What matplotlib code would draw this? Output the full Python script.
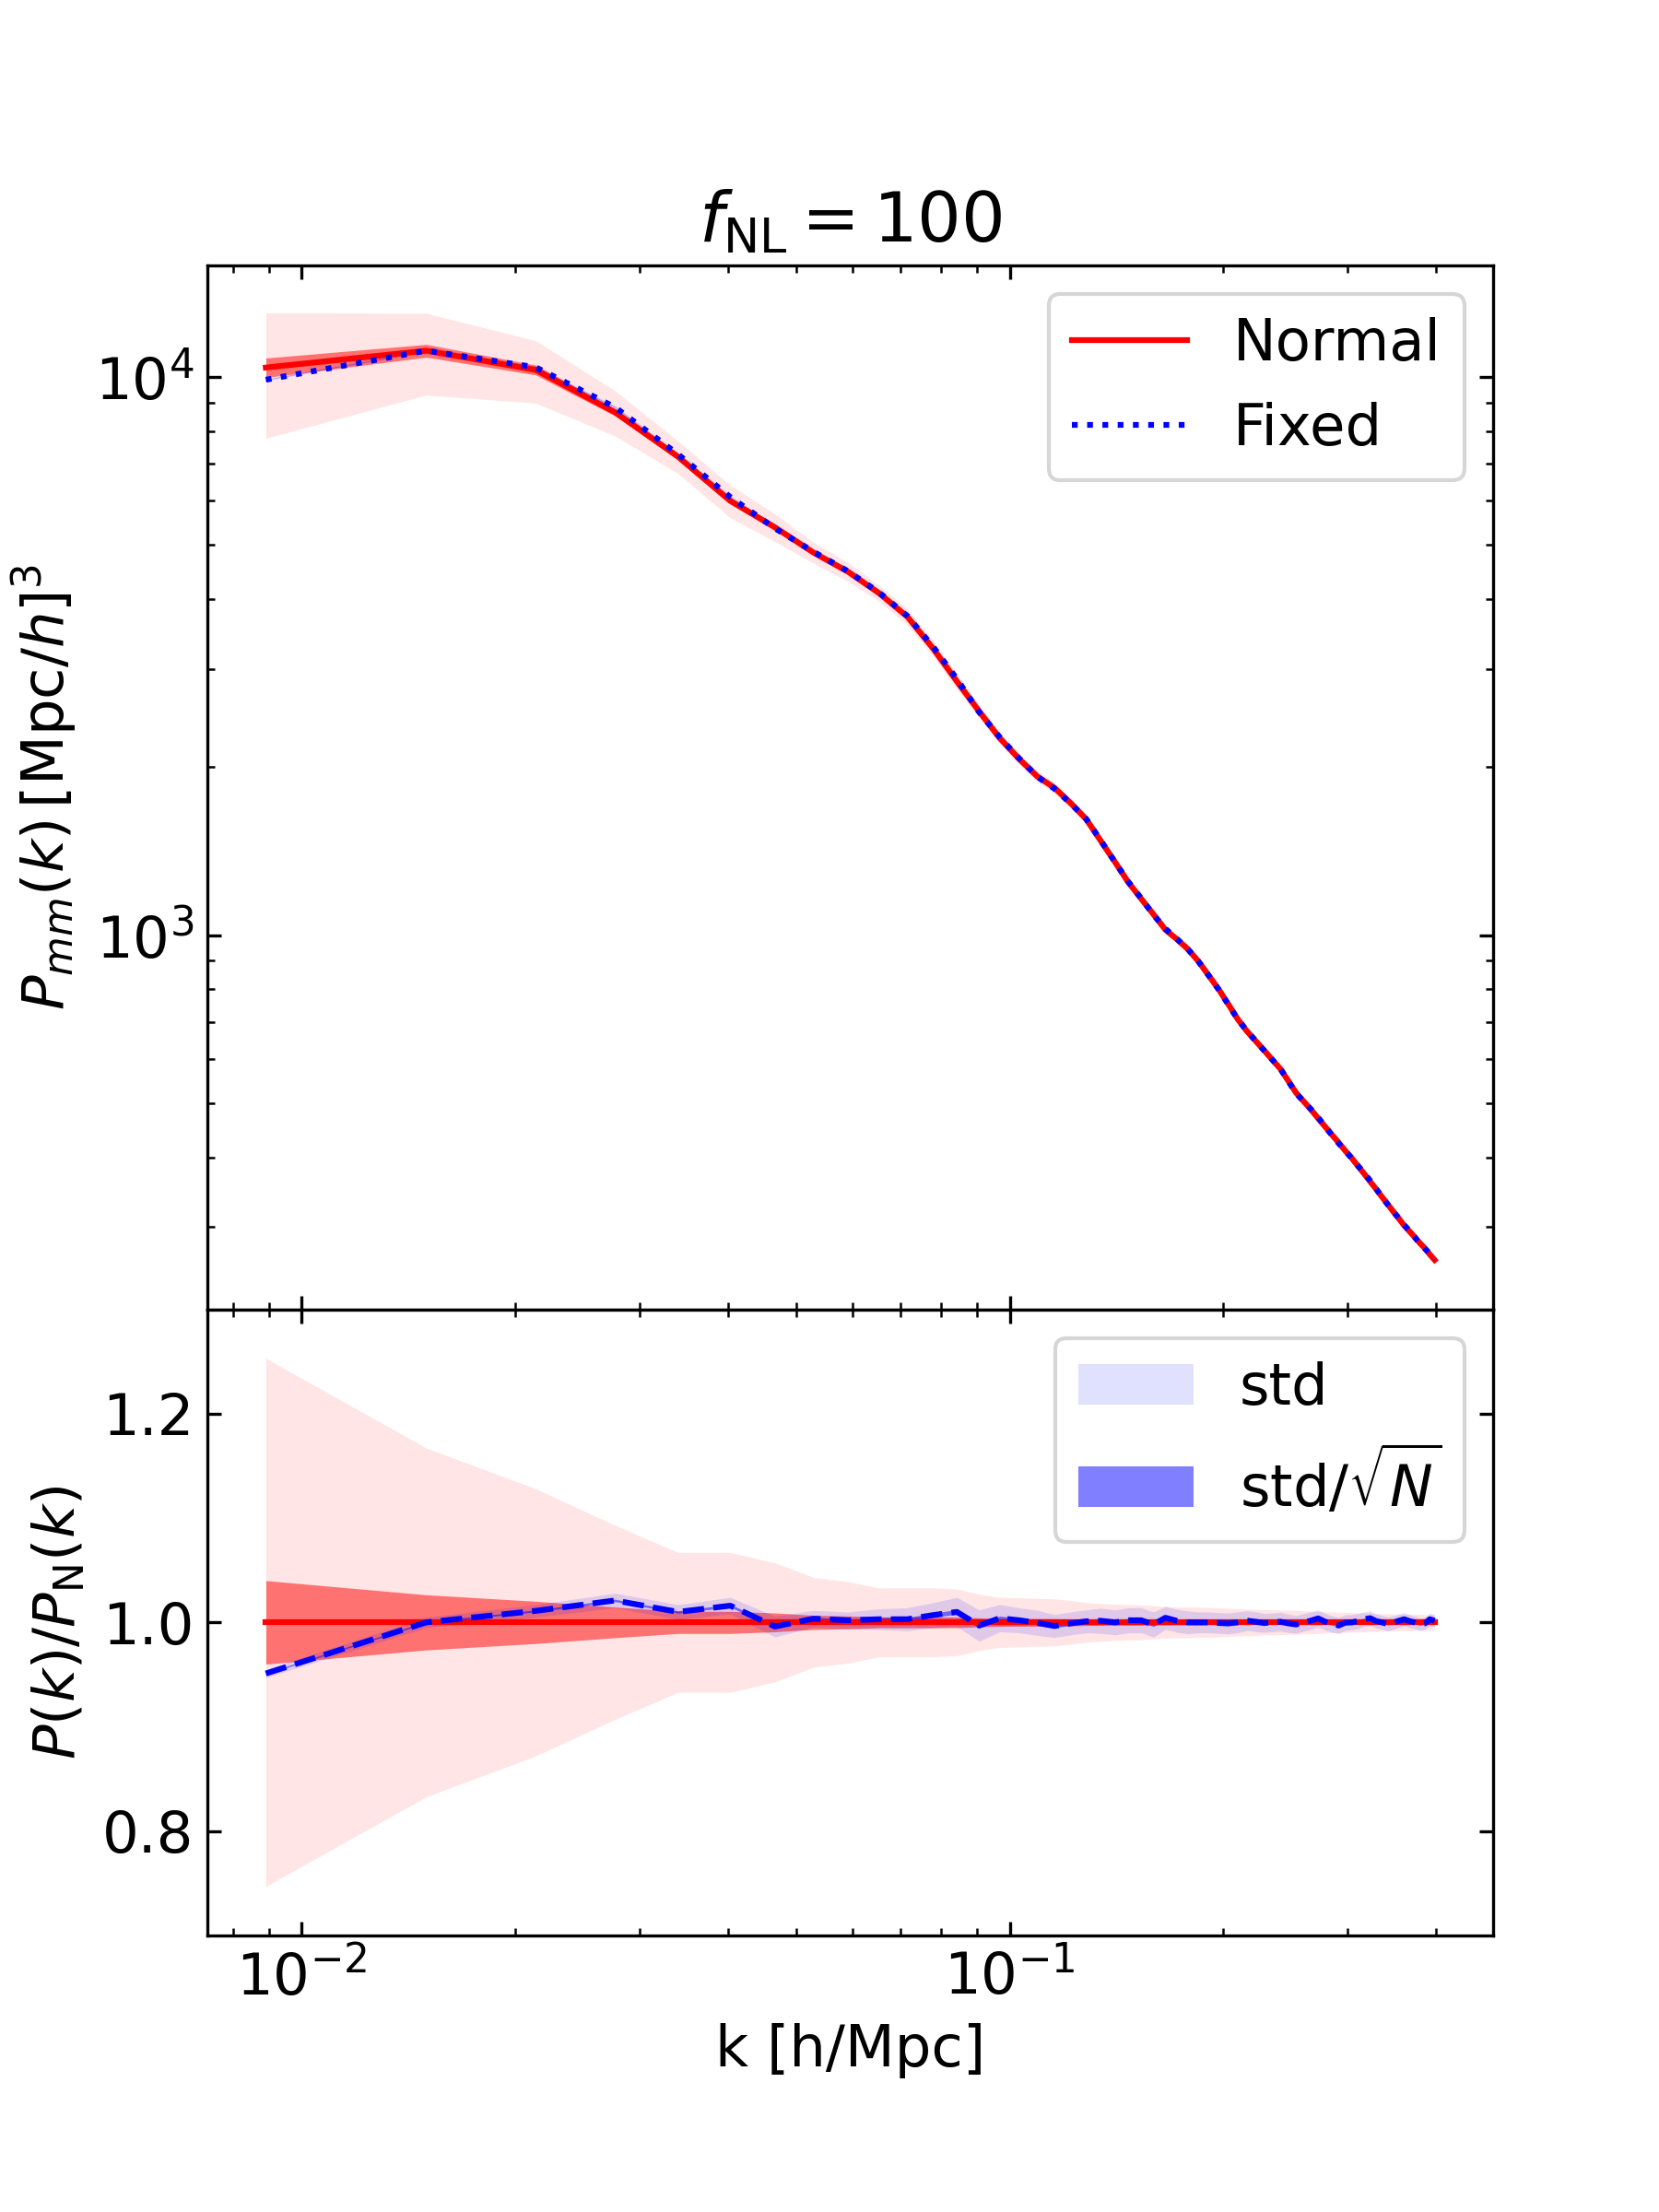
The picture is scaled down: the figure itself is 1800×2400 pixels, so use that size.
import numpy as np
import matplotlib
matplotlib.use('Agg')
import matplotlib.pyplot as plt

# wavenumbers [h/Mpc]
k = np.array([0.0089, 0.0150, 0.0214, 0.0277, 0.0340, 0.0403, 0.0466, 0.0528, 0.0591, 0.0654,
              0.0717, 0.0780, 0.0842, 0.0905, 0.0968, 0.1031, 0.1094, 0.1156, 0.1219, 0.1282,
              0.1345, 0.1408, 0.1470, 0.1533, 0.1596, 0.1659, 0.1722, 0.1784, 0.1847, 0.1910,
              0.1973, 0.2036, 0.2098, 0.2161, 0.2224, 0.2287, 0.2350, 0.2412, 0.2475, 0.2538,
              0.2601, 0.2664, 0.2726, 0.2789, 0.2852, 0.2915, 0.2978, 0.3040, 0.3103, 0.3166,
              0.3229, 0.3292, 0.3354, 0.3417, 0.3480, 0.3543, 0.3606, 0.3668, 0.3731, 0.3794,
              0.3857, 0.3920, 0.3982])

# mean P(k) of the normal (gaussian) sims
pk_normal = np.array([10400, 11150, 10300, 8650, 7200, 6000, 5380, 4850, 4480, 4100,
                      3720, 3260, 2850, 2520, 2255, 2070, 1925, 1838, 1725, 1615,
                      1475, 1353, 1245, 1163, 1090, 1023, 984, 945, 898, 847,
                      800, 752, 708, 674, 647, 622, 598, 576, 548, 522,
                      504, 487, 470, 454, 439, 425, 411, 399, 386, 374,
                      362, 351, 340, 330, 320, 311, 302, 295, 288, 281,
                      275, 268, 262])

# P_fixed / P_normal
ratio_fixed = np.array([0.951, 1.000, 1.011, 1.021, 1.010, 1.016, 0.996, 1.0035, 1.002, 1.003,
                        1.003, 1.007, 1.010, 0.997, 1.004, 1.002, 0.9995, 0.9965, 0.999, 1.001,
                        1.0015, 1.000, 1.002, 1.002, 0.998, 1.0044, 1.0015, 1.000, 1.000, 1.000,
                        0.9994, 0.999, 1.000, 1.0017, 1.0006, 0.9994, 1.000, 1.0006, 0.999, 0.998,
                        1.000, 1.0017, 1.0038, 1.0006, 0.9985, 0.997, 0.9997, 1.000, 1.0012, 1.003,
                        1.004, 1.0012, 1.000, 0.9985, 0.9997, 1.0015, 1.003, 1.0012, 1.000, 0.9982,
                        0.999, 1.003, 1.0015])

# relative scatter (std / mean) of both sets
std_normal = np.array([0.253, 0.167, 0.128, 0.093, 0.067, 0.067, 0.057, 0.043, 0.039, 0.033,
                       0.033, 0.033, 0.032, 0.027, 0.024, 0.0235, 0.023, 0.0225, 0.021, 0.019,
                       0.018, 0.0175, 0.017, 0.0165, 0.016, 0.015, 0.0148, 0.0146, 0.0145, 0.0142,
                       0.014, 0.0135, 0.013, 0.0128, 0.0125, 0.0122, 0.012, 0.0118, 0.0116, 0.0114,
                       0.0112, 0.011, 0.0105, 0.0102, 0.010, 0.0098, 0.0096, 0.0094, 0.0092, 0.009,
                       0.0088, 0.0086, 0.0085, 0.0083, 0.0082, 0.008, 0.0079, 0.0078, 0.0077, 0.0076,
                       0.0075, 0.0074, 0.0073])
std_fixed = np.array([0.004, 0.005, 0.006, 0.007, 0.007, 0.008, 0.010, 0.008, 0.008, 0.010,
                      0.011, 0.012, 0.014, 0.015, 0.013, 0.012, 0.012, 0.011, 0.011, 0.011,
                      0.012, 0.012, 0.012, 0.012, 0.012, 0.011, 0.011, 0.011, 0.010, 0.010,
                      0.010, 0.010, 0.010, 0.0095, 0.0095, 0.009, 0.009, 0.009, 0.0088, 0.0085,
                      0.0085, 0.0083, 0.008, 0.008, 0.0078, 0.0077, 0.0075, 0.0074, 0.0072, 0.007,
                      0.007, 0.0068, 0.0067, 0.0066, 0.0065, 0.0064, 0.0063, 0.0062, 0.0061, 0.006,
                      0.006, 0.0059, 0.0058])
n_sims = 40

pk_fixed = pk_normal * ratio_fixed
err_normal = std_normal / np.sqrt(n_sims)
err_fixed = std_fixed / np.sqrt(n_sims)

fig, (ax1, ax2) = plt.subplots(2, 1, sharex=True, figsize=(6, 8),
                               gridspec_kw={'height_ratios': [5, 3], 'hspace': 0})
fig.subplots_adjust(left=0.125, right=0.9, top=0.88, bottom=0.125)

# power spectrum
ax1.fill_between(k, pk_normal * (1 - std_normal), pk_normal * (1 + std_normal), color='red', alpha=0.1, lw=0)
ax1.fill_between(k, pk_normal * (1 - err_normal), pk_normal * (1 + err_normal), color='red', alpha=0.5, lw=0)
ax1.fill_between(k, pk_fixed * (1 - std_fixed), pk_fixed * (1 + std_fixed), color='blue', alpha=0.12, lw=0)
ax1.fill_between(k, pk_fixed * (1 - err_fixed), pk_fixed * (1 + err_fixed), color='blue', alpha=0.5, lw=0)
ax1.plot(k, pk_normal, 'r-', lw=1.5, label='Normal')
ax1.plot(k, pk_fixed, 'b:', lw=1.5, label='Fixed')
ax1.set_xscale('log')
ax1.set_yscale('log')
ax1.set_ylabel(r'$P_{mm}(k)\,[{\rm Mpc}/h]^3$', fontsize=15)
ax1.set_title(r'$f_{\rm NL} = 100$', fontsize=18)
ax1.legend(loc='upper right', fontsize=15)

# ratio
ax2.fill_between(k, 1 - std_normal, 1 + std_normal, color='red', alpha=0.1, lw=0)
ax2.fill_between(k, 1 - err_normal, 1 + err_normal, color='red', alpha=0.5, lw=0)
ax2.fill_between(k, ratio_fixed - std_fixed, ratio_fixed + std_fixed, color='blue', alpha=0.12, lw=0,
                 label='std')
ax2.fill_between(k, ratio_fixed - err_fixed, ratio_fixed + err_fixed, color='blue', alpha=0.5, lw=0,
                 label=r'std/$\sqrt{N}$')
ax2.plot(k, np.ones_like(k), 'r-', lw=1.5)
ax2.plot(k, ratio_fixed, 'b--', lw=1.5)
ax2.set_ylim(0.7, 1.3)
ax2.set_yticks([0.8, 1.0, 1.2])
ax2.set_xlabel('k [h/Mpc]', fontsize=15)
ax2.set_ylabel(r'$P(k)/P_{\rm N}(k)$', fontsize=15)
ax2.legend(loc='upper right', fontsize=15)

for ax in (ax1, ax2):
    ax.tick_params(which='both', direction='in', top=True, right=True, labelsize=15)

plt.savefig('out.png', dpi=300)
